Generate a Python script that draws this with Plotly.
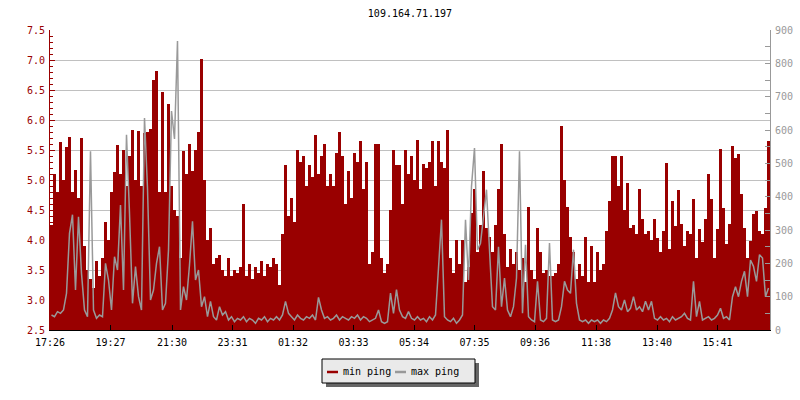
import plotly.graph_objects as go
import pandas as pd

title_text = "109.164.71.197"
start_time = "2024-01-01 17:26"
step_minutes = 6
tick_labels = ["17:26", "19:27", "21:30", "23:31", "01:32", "03:33",
               "05:34", "07:35", "09:36", "11:38", "13:40", "15:41"]

# min ping (left axis, ms) - one value per 6 minutes
min_ping = [
    4.25, 5.1, 4.8, 5.63, 5.0, 5.55, 5.72, 4.8, 5.17, 4.7, 5.7, 3.9, 3.5, 3.35, 3.2, 3.65, 3.4, 3.7, 4.3, 4.0,
    4.8, 5.13, 5.58, 5.1, 5.5, 4.9, 5.4, 5.83, 5.0, 5.82, 4.9, 5.78, 5.8, 5.85, 6.67, 6.82, 4.8, 6.47, 4.8, 6.27,
    4.9, 4.5, 4.4, 3.7, 5.48, 5.1, 5.6, 5.15, 5.5, 5.8, 7.02, 5.0, 4.0, 4.2, 3.6, 3.7, 3.75, 3.5, 3.4, 3.7,
    3.4, 3.5, 3.45, 3.55, 4.6, 3.4, 3.6, 3.35, 3.55, 3.45, 3.65, 3.4, 3.6, 3.55, 3.7, 3.6, 3.25, 4.1, 5.25, 4.4,
    4.7, 4.3, 5.5, 5.3, 5.4, 4.9, 5.25, 5.05, 5.75, 5.1, 5.4, 5.6, 4.9, 5.1, 4.9, 5.45, 5.8, 5.4, 4.6, 5.15,
    4.7, 5.45, 5.3, 5.65, 4.85, 5.3, 3.6, 3.8, 5.6, 5.6, 3.7, 3.45, 3.6, 4.5, 5.5, 5.25, 5.25, 4.6, 5.5, 5.1,
    5.4, 5.0, 5.67, 4.85, 5.27, 5.2, 5.3, 5.65, 4.9, 5.65, 5.3, 5.2, 5.83, 3.7, 3.45, 4.0, 3.6, 4.0, 3.3, 3.55,
    4.45, 4.85, 3.8, 4.25, 5.15, 4.2, 4.05, 3.8, 4.25, 4.85, 5.6, 4.1, 3.55, 3.85, 3.6, 3.8, 3.5, 3.7, 3.3, 4.55,
    3.5, 3.35, 4.2, 3.8, 3.45, 3.5, 3.4, 3.4, 3.45, 3.6, 5.9, 5.0, 4.55, 4.05, 3.8, 3.35, 3.6, 3.4, 4.05, 3.3,
    3.9, 3.3, 3.8, 3.5, 3.6, 4.15, 4.65, 5.4, 5.4, 4.9, 5.4, 4.5, 4.95, 4.2, 4.25, 4.1, 4.85, 4.35, 4.1, 4.15,
    4.0, 4.35, 4.04, 3.8, 4.15, 5.29, 3.85, 4.65, 4.23, 4.84, 4.26, 3.9, 4.15, 4.1, 4.68, 3.7, 4.18, 3.96, 4.35, 5.1,
    4.68, 3.7, 4.18, 5.51, 4.54, 3.93, 4.26, 5.56, 5.37, 5.43, 4.76, 4.2, 3.7, 3.98, 4.43, 4.48, 4.15, 4.1, 4.54, 5.65,
]

# max ping (right axis, ms)
max_ping = [
    45, 40, 55, 50, 60, 110, 290, 346, 120, 340, 170, 60, 40, 536, 60, 35, 45, 40, 200, 150,
    60, 220, 180, 375, 120, 586, 350, 80, 190, 100, 60, 636, 425, 90, 120, 200, 250, 60, 80, 240,
    657, 573, 867, 60, 130, 90, 195, 326, 150, 180, 70, 100, 40, 86, 40, 30, 70, 45, 55, 30,
    40, 25, 35, 30, 40, 25, 35, 30, 20, 35, 30, 40, 25, 35, 30, 40, 30, 45, 86, 50,
    40, 30, 45, 35, 30, 40, 35, 45, 30, 98, 60, 35, 40, 30, 35, 45, 30, 40, 35, 30,
    40, 35, 45, 30, 40, 35, 25, 30, 35, 60, 25, 20, 25, 111, 50, 121, 60, 40, 35, 55,
    35, 30, 40, 30, 35, 25, 40, 30, 45, 186, 331, 40, 30, 25, 35, 20, 30, 45, 331, 150,
    431, 546, 240, 260, 350, 421, 240, 70, 60, 250, 70, 156, 60, 40, 70, 156, 536, 50, 256, 40,
    30, 25, 146, 30, 25, 35, 261, 30, 25, 30, 70, 146, 120, 110, 241, 80, 30, 25, 30, 20,
    30, 25, 30, 20, 30, 25, 35, 60, 111, 70, 60, 90, 55, 65, 100, 60, 70, 55, 86, 60,
    86, 35, 30, 40, 30, 35, 25, 40, 30, 35, 40, 50, 35, 30, 146, 40, 86, 30, 35, 40,
    30, 35, 45, 65, 35, 40, 30, 100, 130, 100, 146, 176, 100, 210, 191, 146, 226, 216, 100, 126,
]

series_names = ["min ping", "max ping"]

RED = "#990000"
GRAY = "#999999"
FONT = "DejaVu Sans Mono"

start = pd.Timestamp(start_time)
step = pd.Timedelta(minutes=step_minutes)
times = [start + step * i + step / 2 for i in range(len(min_ping))]
end = start + step * len(min_ping)

tickvals = []
for lab in tick_labels:
    t = pd.Timestamp(start.strftime("%Y-%m-%d") + " " + lab)
    if t < start:
        t += pd.Timedelta(days=1)
    tickvals.append(t)

fig = go.Figure()
fig.add_trace(go.Bar(
    x=times, y=min_ping, width=step.total_seconds() * 1000,
    marker=dict(color=RED, line=dict(width=0)),
    name=series_names[0], showlegend=False, yaxis="y",
))
fig.add_trace(go.Scatter(
    x=times, y=max_ping, mode="lines",
    line=dict(color=GRAY, width=1.5, shape="linear"),
    name=series_names[1], showlegend=False, yaxis="y2",
))

L, R, T, B, W, H = 50, 30, 30, 70, 800, 400
pw, ph = W - L - R, H - T - B


def px_x(p):
    return (p - L) / pw


def px_y(p):
    return (H - B - p) / ph


shapes = [
    dict(type="rect", xref="paper", yref="paper",
         x0=px_x(326), x1=px_x(479), y0=px_y(387), y1=px_y(363),
         fillcolor="#666666", line=dict(width=0)),
    dict(type="rect", xref="paper", yref="paper",
         x0=px_x(322), x1=px_x(475), y0=px_y(383), y1=px_y(359),
         fillcolor="#eaeaea", line=dict(color="black", width=1)),
    dict(type="line", xref="paper", yref="paper",
         x0=px_x(327), x1=px_x(338), y0=px_y(372), y1=px_y(372),
         line=dict(color=RED, width=2.5)),
    dict(type="line", xref="paper", yref="paper",
         x0=px_x(395), x1=px_x(406), y0=px_y(372), y1=px_y(372),
         line=dict(color=GRAY, width=2.5)),
]
annotations = [
    dict(text=series_names[0], xref="paper", yref="paper", x=px_x(341), y=px_y(371),
         xanchor="left", yanchor="middle", showarrow=False,
         font=dict(family=FONT, size=10, color="black")),
    dict(text=series_names[1], xref="paper", yref="paper", x=px_x(409), y=px_y(371),
         xanchor="left", yanchor="middle", showarrow=False,
         font=dict(family=FONT, size=10, color="black")),
]

fig.update_layout(
    width=W, height=H, autosize=False,
    margin=dict(l=L, r=R, t=T, b=B, pad=0),
    paper_bgcolor="white", plot_bgcolor="white",
    font=dict(family=FONT, size=10, color="black"),
    title=dict(text=title_text, x=0.5, xref="paper", xanchor="center",
               y=1 - 13 / H, yref="container", yanchor="middle",
               font=dict(family=FONT, size=10, color="black")),
    bargap=0,
    showlegend=False,
    shapes=shapes,
    annotations=annotations,
    xaxis=dict(
        type="date", range=[start, end], automargin=False,
        tickmode="array", tickvals=tickvals, ticktext=tick_labels,
        ticks="inside", ticklen=5, tickcolor="black", tickwidth=1,
        showline=True, linecolor="black", linewidth=1,
        showgrid=False, zeroline=False,
        tickfont=dict(family=FONT, size=10, color="black"),
        ticklabelstandoff=3,
    ),
    yaxis=dict(
        range=[2.5, 7.5], tick0=2.5, dtick=0.5, tickformat=".1f", automargin=False,
        ticks="inside", ticklen=5, tickcolor=RED, tickwidth=1,
        showline=True, linecolor=RED, linewidth=1,
        showgrid=True, gridcolor="#c0c0c0", gridwidth=1,
        zeroline=False,
        tickfont=dict(family=FONT, size=10, color=RED),
        ticklabelstandoff=2,
        minor=dict(dtick=0.1, ticks="inside", ticklen=3, tickcolor=RED, showgrid=False),
    ),
    yaxis2=dict(
        range=[0, 900], tick0=0, dtick=100, overlaying="y", side="right", automargin=False,
        ticks="inside", ticklen=5, tickcolor=GRAY, tickwidth=1,
        showline=True, linecolor=GRAY, linewidth=1,
        showgrid=False, zeroline=False,
        tickfont=dict(family=FONT, size=10, color=GRAY),
        ticklabelstandoff=2,
        minor=dict(dtick=50, ticks="inside", ticklen=5, tickcolor=GRAY, showgrid=False),
    ),
)

fig.write_html("out.html", config={"displayModeBar": False},
               post_script="document.body.style.margin='0';")
